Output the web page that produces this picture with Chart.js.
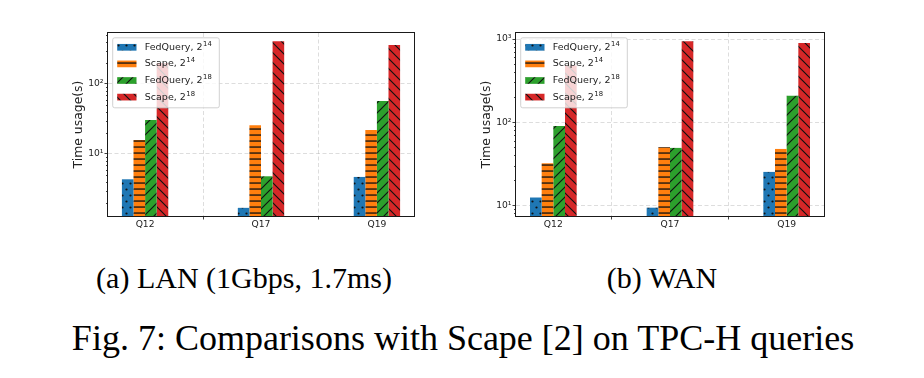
<!DOCTYPE html>
<html><head><meta charset="utf-8">
<script src="https://cdn.jsdelivr.net/npm/chart.js@4.4.0/dist/chart.umd.min.js"></script>
<style>
html,body{margin:0;padding:0;background:#fff;width:924px;height:378px;overflow:hidden;position:relative;}
canvas{position:absolute;top:0;}
#cA{left:0;} #cB{left:462px;}
.cap{position:absolute;font-family:"Liberation Serif","Times New Roman",serif;color:#000;white-space:nowrap;line-height:1;text-align:center;}
#capA{left:44px;width:400px;top:263px;font-size:30px;}
#capB{left:562px;width:200px;top:263px;font-size:30px;}
#capFig{left:63px;width:800px;top:320px;font-size:36px;}
</style></head><body>
<canvas id="cA" width="462" height="250"></canvas>
<canvas id="cB" width="462" height="250"></canvas>
<div class="cap" id="capA">(a) LAN (1Gbps, 1.7ms)</div>
<div class="cap" id="capB">(b) WAN</div>
<div class="cap" id="capFig">Fig. 7: Comparisons with Scape [2] on TPC-H queries</div>
<script>
// ---- data ----
const categories = ['Q12', 'Q17', 'Q19'];
const seriesNames = ['FedQuery', 'Scape', 'FedQuery', 'Scape'];
const seriesExponents = ['14', '14', '18', '18'];
const lanFedQuery14 = [4.35, 1.7, 4.7];
const lanScape14 = [15.8, 25.7, 22];
const lanFedQuery18 = [30.6, 4.8, 57];
const lanScape18 = [200, 407, 361];
const wanFedQuery14 = [12.4, 9.35, 25.2];
const wanScape14 = [32, 50, 47.6];
const wanFedQuery18 = [90, 49, 207];
const wanScape18 = [480, 937, 895];
const lanYTicks = [10, 100];
const lanYTickLabels = ['10¹', '10²'];
const wanYTicks = [10, 100, 1000];
const wanYTickLabels = ['10¹', '10²', '10³'];
const lanYRange = [1.3, 535];
const wanYRange = [7.43, 1181];
const yTitle = 'Time usage(s)';

// ---- styling ----
Chart.defaults.font.family = "'DejaVu Sans', sans-serif";
const seriesColors = ['#1f77b4', '#ff7f0e', '#2ca02c', '#d62728'];
const hatchKinds = ['dots', 'hline', 'slash', 'backslash'];

function makePattern(ctx, color, kind) {
  const c = document.createElement('canvas');
  let w = 10, h = 10;
  if (kind === 'dots') { w = 8; h = 12; }
  if (kind === 'hline') { w = 6; h = 6; }
  c.width = w; c.height = h;
  const g = c.getContext('2d');
  g.fillStyle = color; g.fillRect(0, 0, w, h);
  g.fillStyle = '#111'; g.strokeStyle = '#111'; g.lineWidth = 1.15;
  if (kind === 'dots') {
    g.beginPath(); g.arc(2.5, 3.5, 1.1, 0, Math.PI * 2); g.fill();
    g.beginPath(); g.arc(6.5, 9.5, 1.1, 0, Math.PI * 2); g.fill();
  } else if (kind === 'hline') {
    g.fillRect(0, 2.4, w, 1.3);
  } else if (kind === 'slash') {
    g.beginPath();
    g.moveTo(-1, h + 1); g.lineTo(w + 1, -1);
    g.moveTo(-1, 1); g.lineTo(1, -1);
    g.moveTo(w - 1, h + 1); g.lineTo(w + 1, h - 1);
    g.stroke();
  } else {
    g.beginPath();
    g.moveTo(-1, -1); g.lineTo(w + 1, h + 1);
    g.moveTo(-1, h - 1); g.lineTo(1, h + 1);
    g.moveTo(w - 1, -1); g.lineTo(w + 1, 1);
    g.stroke();
  }
  return ctx.createPattern(c, 'repeat');
}

const insideLegend = {
  id: 'insideLegend',
  afterDraw(chart, args, opts) {
    const {ctx, chartArea, scales} = chart;
    ctx.save();
    // minor log ticks
    const ys = scales.y;
    ctx.strokeStyle = '#111'; ctx.lineWidth = 0.8;
    const lo = Math.floor(Math.log10(ys.min)), hi = Math.ceil(Math.log10(ys.max));
    for (let e = lo; e <= hi; e++) {
      for (let k = 2; k <= 9; k++) {
        const v = k * Math.pow(10, e);
        if (v < ys.min || v > ys.max) continue;
        const py = Math.round(ys.getPixelForValue(v)) + 0.5;
        ctx.beginPath(); ctx.moveTo(chartArea.left - 2, py); ctx.lineTo(chartArea.left, py); ctx.stroke();
      }
    }
    // frame
    ctx.strokeStyle = '#1a1a1a'; ctx.lineWidth = 1;
    ctx.strokeRect(chartArea.left - 0.5, chartArea.top - 0.5, chartArea.right - chartArea.left + 1, chartArea.bottom - chartArea.top + 1);
    // legend
    const x0 = chartArea.left + opts.dx, y0 = chartArea.top + opts.dy;
    ctx.beginPath();
    ctx.roundRect(x0 + 0.5, y0 + 0.5, opts.w, opts.h, 2);
    ctx.fillStyle = 'rgba(255,255,255,0.8)'; ctx.fill();
    ctx.strokeStyle = 'rgba(204,204,204,0.9)'; ctx.lineWidth = 1; ctx.stroke();
    ctx.textAlign = 'left';
    chart.data.datasets.forEach((ds, i) => {
      const cy = y0 + opts.first + i * opts.rowH;
      ctx.fillStyle = ds.backgroundColor;
      ctx.fillRect(x0 + opts.patchX, cy - opts.patchH / 2, opts.patchW, opts.patchH);
      ctx.fillStyle = '#222';
      ctx.textBaseline = 'middle';
      ctx.font = opts.fontSize + "px 'DejaVu Sans'";
      const base = seriesNames[i] + ', 2';
      ctx.fillText(base, x0 + opts.textX, cy);
      const bw = ctx.measureText(base).width;
      ctx.font = opts.supSize + "px 'DejaVu Sans'";
      ctx.fillText(seriesExponents[i], x0 + opts.textX + bw + 0.5, cy - 3.3);
    });
    ctx.restore();
  }
};

function makeChart(canvasId, seriesData, yRange, yTicks, yTickLabels, lay) {
  const canvas = document.getElementById(canvasId);
  const ctx = canvas.getContext('2d');
  const datasets = seriesData.map((vals, s) => ({
    label: seriesNames[s] + ', 2^' + seriesExponents[s],
    data: vals.map((v, i) => ({x: i, y: v})),
    backgroundColor: makePattern(ctx, seriesColors[s], hatchKinds[s]),
    borderWidth: 0,
    categoryPercentage: 0.4,
    barPercentage: 1.0
  }));
  return new Chart(ctx, {
    type: 'bar',
    data: {datasets},
    plugins: [insideLegend],
    options: {
      responsive: false,
      animation: false,
      devicePixelRatio: 1,
      layout: {padding: {left: 0, top: 33, right: lay.padRight, bottom: 0}},
      plugins: {
        legend: {display: false},
        tooltip: {enabled: false},
        insideLegend: {dx: 4.2, dy: 4.3, w: 106.6, h: 70, first: 10, rowH: 16.6,
          patchX: 5, patchW: 19.3, patchH: 6.7, textX: 32.6, fontSize: 9.5, supSize: 6.8}
      },
      scales: {
        x: {
          type: 'linear',
          offset: false,
          min: -0.32, max: 2.32,
          afterBuildTicks: (sc) => { sc.ticks = categories.map((c, i) => ({value: i})); },
          afterFit: (sc) => { sc.height = 34; },
          ticks: {
            callback: (v) => categories[v],
            font: {size: 9.2}, color: '#222', padding: 0, maxRotation: 0, autoSkip: false
          },
          grid: {color: 'rgba(176,176,176,0.55)', lineWidth: 0.8, tickColor: '#111', tickLength: 3.5, tickWidth: 0.8},
          border: {display: false, dash: [4, 2.5]}
        },
        y: {
          type: 'logarithmic',
          min: yRange[0], max: yRange[1],
          afterBuildTicks: (sc) => { sc.ticks = yTicks.map(v => ({value: v})); },
          afterFit: (sc) => { sc.width = lay.yWidth; },
          ticks: {
            callback: (v) => yTickLabels[yTicks.indexOf(v)],
            font: {size: 9.2}, color: '#222', padding: 1, autoSkip: false
          },
          grid: {color: 'rgba(176,176,176,0.55)', lineWidth: 0.8, tickColor: '#111', tickLength: 3.5, tickWidth: 0.8},
          border: {display: false, dash: [4, 2.5]},
          title: {display: true, text: yTitle, font: {size: 12.4}, color: '#222', padding: {top: lay.titlePad, bottom: 0}}
        }
      }
    }
  });
}

makeChart('cA', [lanFedQuery14, lanScape14, lanFedQuery18, lanScape18], lanYRange, lanYTicks, lanYTickLabels,
  {padRight: 48, yWidth: 108, titlePad: 79 - 7.44});
makeChart('cB', [wanFedQuery14, wanScape14, wanFedQuery18, wanScape18], wanYRange, wanYTicks, wanYTickLabels,
  {padRight: 100, yWidth: 54, titlePad: 25 - 7.44});
</script>
</body></html>
